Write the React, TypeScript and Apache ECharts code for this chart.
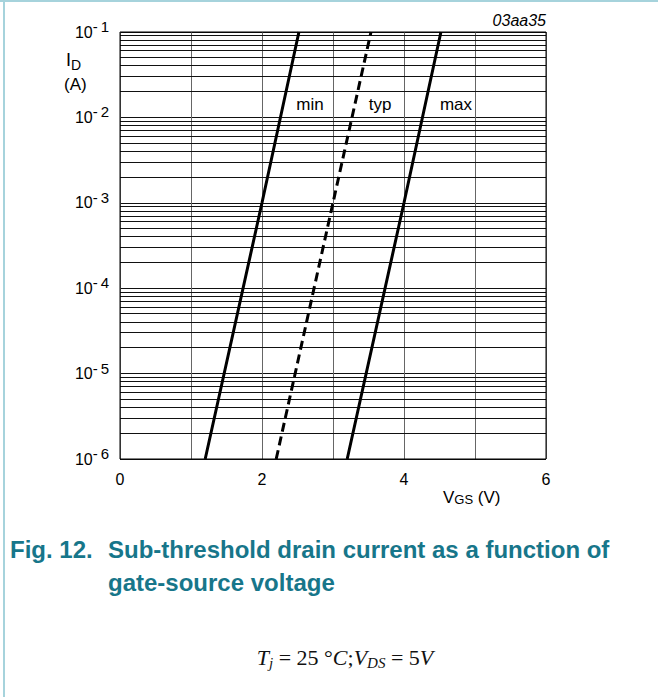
import React, { useEffect, useRef } from "react";
import * as echarts from "echarts";

// Curves: VGS (V) vs ID (A)
const VGS_MIN = [1.2, 2.0, 2.52];
const ID_MIN = [1e-6, 1e-3, 1e-1];
const VGS_TYP = [2.2, 3.0, 3.535];
const ID_TYP = [1e-6, 1e-3, 1e-1];
const VGS_MAX = [3.2, 4.0, 4.52];
const ID_MAX = [1e-6, 1e-3, 1e-1];

const X_TICK_LABELS = [0, 2, 4, 6];
const Y_DECADES = [-6, -5, -4, -3, -2, -1];
const MINOR_MULTIPLIERS = [2, 3, 4, 5, 6, 7, 8, 9];
const CURVE_NAMES = ["min", "typ", "max"];

const FONT = "'Liberation Sans', Arial, sans-serif";
const SERIF = "'Liberation Serif', 'Times New Roman', serif";
const TEAL = "#17768a";

function pairs(xs: number[], ys: number[]) {
  return xs.map((x, i) => [x, ys[i]]);
}

export default function App() {
  const ref = useRef<HTMLDivElement>(null);

  useEffect(() => {
    if (!ref.current) return;
    const chart = echarts.init(ref.current, undefined, { renderer: "svg" });

    const minorValues: number[] = [];
    Y_DECADES.slice(0, -1).forEach((e) => {
      MINOR_MULTIPLIERS.forEach((m) => minorValues.push(m * Math.pow(10, e)));
    });

    const curveStyle = (dashed: boolean) => ({
      type: "line",
      showSymbol: false,
      symbol: "none",
      silent: true,
      z: 5,
      lineStyle: {
        color: "#000",
        width: 3,
        type: dashed ? [9, 5] : "solid",
      },
    });

    const option: any = {
      animation: false,
      backgroundColor: "#fff",
      grid: {
        left: 120,
        right: 112,
        top: 32,
        bottom: 238,
        show: true,
        borderColor: "#000",
        borderWidth: 1,
        backgroundColor: "transparent",
        z: 4,
      },
      xAxis: {
        type: "value",
        min: 0,
        max: 6,
        interval: 1,
        axisLine: { show: false },
        axisTick: { show: false },
        axisLabel: {
          margin: 12,
          fontSize: 16,
          color: "#000",
          fontFamily: FONT,
          formatter: (v: number) =>
            X_TICK_LABELS.indexOf(v) >= 0 ? String(v) : "",
        },
        splitLine: { show: true, lineStyle: { color: "#666", width: 1 } },
      },
      yAxis: {
        type: "log",
        logBase: 10,
        min: Math.pow(10, Y_DECADES[0]),
        max: Math.pow(10, Y_DECADES[Y_DECADES.length - 1]),
        axisLine: { show: false },
        axisTick: { show: false },
        axisLabel: {
          margin: 11,
          color: "#000",
          fontFamily: FONT,
          formatter: (v: number) => {
            const e = Math.round(Math.log10(v));
            return `{b|10}{s|-\u2009${-e}}`;
          },
          rich: {
            b: { fontSize: 16, fontFamily: FONT, color: "#000" },
            s: {
              fontSize: 15,
              fontFamily: FONT,
              color: "#000",
              padding: [0, 0, 11, 0],
            },
          },
        },
        splitLine: { show: true, lineStyle: { color: "#111", width: 1 } },
      },
      series: [
        {
          type: "custom",
          silent: true,
          z: 1,
          clip: true,
          data: minorValues.map((v) => [0, v]),
          renderItem: (params: any, api: any) => {
            const cs = params.coordSys;
            const yRaw = api.coord([0, api.value(1)])[1];
            const y = Math.round(yRaw - 0.5) + 0.5;
            return {
              type: "line",
              shape: { x1: cs.x, y1: y, x2: cs.x + cs.width, y2: y },
              style: { stroke: "#111", lineWidth: 1 },
            };
          },
        },
        { ...curveStyle(false), name: CURVE_NAMES[0], data: pairs(VGS_MIN, ID_MIN) },
        { ...curveStyle(true), name: CURVE_NAMES[1], data: pairs(VGS_TYP, ID_TYP) },
        { ...curveStyle(false), name: CURVE_NAMES[2], data: pairs(VGS_MAX, ID_MAX) },
      ],
      graphic: [
        // curve labels
        ...[
          [310, CURVE_NAMES[0]],
          [380, CURVE_NAMES[1]],
          [456, CURVE_NAMES[2]],
        ].map(([x, t]) => ({
          type: "text",
          x: x as number,
          y: 104,
          z: 10,
          style: {
            text: t as string,
            fontSize: 17,
            fontFamily: FONT,
            fill: "#000",
            align: "center",
            verticalAlign: "middle",
          },
        })),
        {
          type: "text",
          x: 546,
          y: 20,
          style: {
            text: "03aa35",
            fontSize: 16,
            fontStyle: "italic",
            fontFamily: FONT,
            fill: "#000",
            align: "right",
            verticalAlign: "middle",
          },
        },
        // y axis name
        {
          type: "text",
          x: 66,
          y: 60,
          style: {
            text: "I",
            fontSize: 18,
            fontFamily: FONT,
            fill: "#000",
            align: "left",
            verticalAlign: "middle",
          },
        },
        {
          type: "text",
          x: 71,
          y: 65,
          style: {
            text: "D",
            fontSize: 14,
            fontFamily: FONT,
            fill: "#000",
            align: "left",
            verticalAlign: "middle",
          },
        },
        {
          type: "text",
          x: 64,
          y: 84,
          style: {
            text: "(A)",
            fontSize: 17,
            fontFamily: FONT,
            fill: "#000",
            align: "left",
            verticalAlign: "middle",
          },
        },
        // x axis name
        {
          type: "text",
          x: 443,
          y: 506,
          style: {
            text: "{v|V}{g|GS}{v| (V)}",
            align: "left",
            verticalAlign: "bottom",
            rich: {
              v: { fontSize: 17, fontFamily: FONT, fill: "#000", verticalAlign: "bottom" },
              g: { fontSize: 13, fontFamily: FONT, fill: "#000", verticalAlign: "bottom" },
            },
          },
        },
        // caption
        {
          type: "text",
          x: 10,
          y: 549,
          style: {
            text: "Fig. 12.",
            fontSize: 24,
            fontWeight: "bold",
            fontFamily: FONT,
            fill: TEAL,
            align: "left",
            verticalAlign: "middle",
          },
        },
        {
          type: "text",
          x: 108,
          y: 549,
          style: {
            text: "Sub-threshold drain current as a function of",
            fontSize: 24,
            fontWeight: "bold",
            fontFamily: FONT,
            fill: TEAL,
            align: "left",
            verticalAlign: "middle",
          },
        },
        {
          type: "text",
          x: 108,
          y: 582,
          style: {
            text: "gate-source voltage",
            fontSize: 24,
            fontWeight: "bold",
            fontFamily: FONT,
            fill: TEAL,
            align: "left",
            verticalAlign: "middle",
          },
        },
        // conditions
        {
          type: "text",
          x: 345,
          y: 657,
          style: {
            text: "{i|T}{si|j}{n| = 25 °}{i|C}{n|;}{i|V}{si|DS}{n| = 5}{i|V}",
            align: "center",
            verticalAlign: "middle",
            rich: {
              i: { fontSize: 22, fontStyle: "italic", fontFamily: SERIF, fill: "#111", lineHeight: 26 },
              n: { fontSize: 22, fontFamily: SERIF, fill: "#111", lineHeight: 26 },
              si: {
                fontSize: 15,
                fontStyle: "italic",
                fontFamily: SERIF,
                fill: "#111",
                lineHeight: 15,
                padding: [12, 0, 0, 0],
              },
            },
          },
        },
      ],
    };

    chart.setOption(option);
    return () => chart.dispose();
  }, []);

  return (
    <div
      style={{
        position: "absolute",
        left: 0,
        top: 0,
        width: 658,
        height: 697,
        background: "#fff",
        overflow: "hidden",
      }}
    >
      <div ref={ref} style={{ position: "absolute", left: 0, top: 0, width: 658, height: 697 }} />
      <div style={{ position: "absolute", left: 0, top: 0, width: 658, height: 2, background: "#a6d3dc" }} />
      <div style={{ position: "absolute", left: 3, top: 0, width: 2, height: 697, background: "#a6d3dc" }} />
    </div>
  );
}
